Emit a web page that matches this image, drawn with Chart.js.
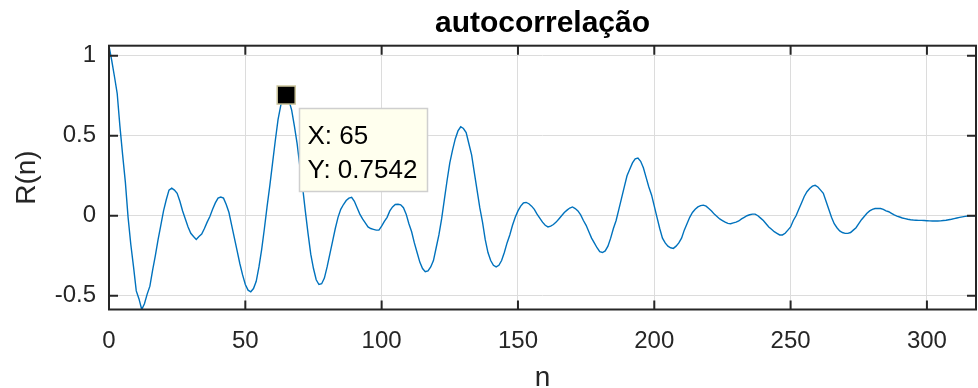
<!DOCTYPE html>
<html>
<head>
<meta charset="utf-8">
<script src="https://cdn.jsdelivr.net/npm/chart.js@4/dist/chart.umd.min.js"></script>
<style>
  html, body { margin: 0; padding: 0; background: #ffffff; }
  #wrap { width: 978px; height: 388px; }
</style>
</head>
<body>
<div id="wrap"><canvas id="c" width="978" height="388"></canvas></div>
<script>
// ---------- data ----------
const chartTitle = 'autocorrelação';
const xLabel = 'n';
const yLabel = 'R(n)';
const xTicks = [0, 50, 100, 150, 200, 250, 300];
const yTicks = [-0.5, 0, 0.5, 1];
const xRange = [0, 318];
const yRange = [-0.586, 1.0625];
// R(n) for n = 0, 1, 2, ... 318
const rValues = [
  1.062, 0.97, 0.87, 0.765, 0.56, 0.38, 0.21, -0.01, -0.18, -0.32,
  -0.47, -0.52, -0.586, -0.55, -0.49, -0.44, -0.34, -0.25, -0.15, -0.06,
  0.03, 0.10, 0.16, 0.172, 0.16, 0.14, 0.09, 0.03, -0.02, -0.07,
  -0.11, -0.13, -0.148, -0.13, -0.115, -0.08, -0.04, -0.005, 0.04, 0.08,
  0.11, 0.117, 0.11, 0.07, 0.02, -0.06, -0.14, -0.22, -0.30, -0.37,
  -0.43, -0.465, -0.475, -0.455, -0.41, -0.32, -0.21, -0.08, 0.06, 0.19,
  0.33, 0.47, 0.60, 0.69, 0.74, 0.7542, 0.72, 0.66, 0.56, 0.45,
  0.31, 0.18, 0.03, -0.11, -0.24, -0.33, -0.40, -0.43, -0.425, -0.39,
  -0.32, -0.24, -0.16, -0.08, -0.01, 0.04, 0.07, 0.095, 0.11, 0.115,
  0.09, 0.05, 0.01, -0.02, -0.045, -0.07, -0.08, -0.085, -0.09, -0.09,
  -0.065, -0.035, -0.01, 0.03, 0.055, 0.07, 0.072, 0.068, 0.05, 0.01,
  -0.05, -0.10, -0.17, -0.23, -0.29, -0.33, -0.35, -0.345, -0.32, -0.28,
  -0.20, -0.12, -0.02, 0.10, 0.22, 0.33, 0.41, 0.48, 0.53, 0.556,
  0.545, 0.52, 0.45, 0.38, 0.27, 0.16, 0.05, -0.04, -0.15, -0.23,
  -0.28, -0.31, -0.32, -0.31, -0.28, -0.23, -0.17, -0.12, -0.06, -0.01,
  0.03, 0.06, 0.08, 0.083, 0.075, 0.06, 0.04, 0.01, -0.015, -0.04,
  -0.06, -0.07, -0.065, -0.055, -0.04, -0.02, 0.0, 0.02, 0.035, 0.048,
  0.055, 0.045, 0.03, 0.005, -0.03, -0.06, -0.10, -0.14, -0.17, -0.20,
  -0.225, -0.23, -0.22, -0.19, -0.14, -0.08, -0.03, 0.04, 0.11, 0.18,
  0.25, 0.29, 0.33, 0.355, 0.36, 0.34, 0.30, 0.24, 0.18, 0.13,
  0.06, -0.01, -0.08, -0.14, -0.17, -0.19, -0.20, -0.204, -0.19, -0.17,
  -0.14, -0.09, -0.05, -0.01, 0.02, 0.04, 0.055, 0.063, 0.066, 0.06,
  0.045, 0.03, 0.01, -0.005, -0.02, -0.03, -0.04, -0.048, -0.05, -0.045,
  -0.04, -0.033, -0.02, -0.01, 0.0, 0.006, 0.01, 0.01, 0.0, -0.015,
  -0.03, -0.05, -0.07, -0.085, -0.10, -0.11, -0.12, -0.12, -0.11, -0.09,
  -0.07, -0.03, 0.0, 0.04, 0.08, 0.12, 0.15, 0.17, 0.185, 0.19,
  0.18, 0.16, 0.14, 0.09, 0.04, -0.01, -0.05, -0.075, -0.095, -0.105,
  -0.11, -0.11, -0.105, -0.09, -0.075, -0.05, -0.025, -0.005, 0.015, 0.03,
  0.04, 0.045, 0.046, 0.045, 0.04, 0.03, 0.025, 0.015, 0.005, -0.002,
  -0.008, -0.014, -0.018, -0.022, -0.025, -0.027, -0.028, -0.029, -0.029, -0.03,
  -0.031, -0.032, -0.033, -0.033, -0.033, -0.032, -0.03, -0.028, -0.025, -0.022,
  -0.018, -0.014, -0.01, -0.007, -0.004, -0.002, 0.0, 0.0, 0.0
];
const lags = rValues.map((_, i) => i);
// data tip
const tipN = 65;
const tipR = 0.7542;
const tipLines = ['X: ' + tipN, 'Y: ' + tipR];

// ---------- chart ----------
const FONT = "'Liberation Sans', Arial, Helvetica, sans-serif";
const AXIS_COLOR = '#262626';
const GRID_COLOR = '#dcdcdc';

const boxPlugin = {
  id: 'matlabBox',
  afterDatasetsDraw(chart) {
    const { ctx, chartArea: a, scales } = chart;
    const xs = scales.x, ys = scales.y;
    ctx.save();
    ctx.strokeStyle = AXIS_COLOR;
    ctx.lineWidth = 2;
    ctx.strokeRect(a.left, a.top, a.right - a.left, a.bottom - a.top);
    const tl = 9;
    ctx.beginPath();
    xTicks.forEach(v => {
      const px = xs.getPixelForValue(v);
      ctx.moveTo(px, a.bottom); ctx.lineTo(px, a.bottom - tl);
      ctx.moveTo(px, a.top); ctx.lineTo(px, a.top + tl);
    });
    yTicks.forEach(v => {
      const py = ys.getPixelForValue(v);
      ctx.moveTo(a.left, py); ctx.lineTo(a.left + tl, py);
      ctx.moveTo(a.right, py); ctx.lineTo(a.right - tl, py);
    });
    ctx.stroke();

    // data tip
    const px = xs.getPixelForValue(tipN);
    const py = ys.getPixelForValue(tipR);
    const s = 18;
    ctx.fillStyle = '#000000';
    ctx.fillRect(px - s / 2, py - s / 2, s, s);
    ctx.strokeStyle = '#c9c39a';
    ctx.lineWidth = 1.5;
    ctx.strokeRect(px - s / 2, py - s / 2, s, s);

    const bx = Math.round(px + 13) + 0.5, by = Math.round(py + 13) + 0.5;
    const bw = 128, bh = 83;
    ctx.fillStyle = '#ffffee';
    ctx.fillRect(bx, by, bw, bh);
    ctx.strokeStyle = '#cfcfcf';
    ctx.lineWidth = 1.5;
    ctx.strokeRect(bx, by, bw, bh);
    ctx.fillStyle = '#000000';
    ctx.font = '26px ' + FONT;
    ctx.textAlign = 'left';
    ctx.textBaseline = 'alphabetic';
    ctx.fillText(tipLines[0], bx + 8, by + 35);
    ctx.fillText(tipLines[1], bx + 8, by + 69);
    ctx.restore();
  }
};

new Chart(document.getElementById('c'), {
  type: 'line',
  data: {
    datasets: [{
      data: lags.map((n, i) => ({ x: n, y: rValues[i] })),
      borderColor: '#0072BD',
      borderWidth: 1.4,
      pointRadius: 0,
      tension: 0,
      fill: false
    }]
  },
  options: {
    responsive: false,
    devicePixelRatio: 1,
    animation: false,
    events: [],
    layout: { padding: { left: 0, right: 2, top: 0, bottom: 0 } },
    plugins: {
      legend: { display: false },
      tooltip: { enabled: false },
      title: {
        display: true,
        fullSize: false,
        text: chartTitle,
        color: '#000000',
        font: { family: FONT, size: 30, weight: 'bold', lineHeight: 1.2 },
        padding: { top: 6, bottom: 3.7 }
      }
    },
    scales: {
      x: {
        type: 'linear',
        min: xRange[0],
        max: xRange[1],
        afterBuildTicks: s => { s.ticks = xTicks.map(v => ({ value: v })); },
        afterFit: s => { s.height = 78.5; },
        ticks: {
          color: AXIS_COLOR,
          font: { family: FONT, size: 24 },
          padding: 17,
          maxRotation: 0,
          autoSkip: false,
          callback: v => String(v)
        },
        grid: { color: GRID_COLOR, lineWidth: 1, drawTicks: false },
        border: { display: false },
        title: {
          display: true,
          text: xLabel,
          color: AXIS_COLOR,
          font: { family: FONT, size: 28, lineHeight: 0.7 },
          padding: { top: 0, bottom: 0 }
        }
      },
      y: {
        type: 'linear',
        min: yRange[0],
        max: yRange[1],
        afterBuildTicks: s => { s.ticks = yTicks.map(v => ({ value: v })); },
        afterFit: s => { s.width = 109; },
        ticks: {
          color: AXIS_COLOR,
          font: { family: FONT, size: 24 },
          padding: 13,
          autoSkip: false,
          callback: v => String(v)
        },
        grid: { color: GRID_COLOR, lineWidth: 1, drawTicks: false },
        border: { display: false },
        title: {
          display: true,
          text: yLabel,
          color: AXIS_COLOR,
          font: { family: FONT, size: 28 },
          padding: { top: 10.5, bottom: 0 }
        }
      }
    }
  },
  plugins: [boxPlugin]
});
</script>
</body>
</html>
